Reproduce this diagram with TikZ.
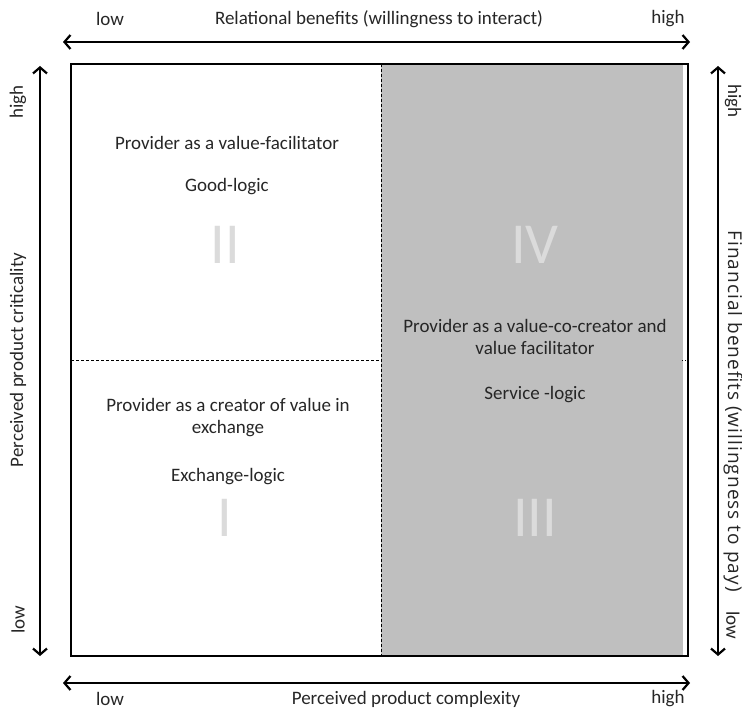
\documentclass[tikz,border=0pt]{standalone}
\usepackage{fontspec}
\setmainfont{Carlito}
\newfontfamily\rfont[LetterSpace=5.5]{Open Sans}
\usetikzlibrary{arrows.meta}
\begin{document}
\begin{tikzpicture}[x=1pt,y=-1pt,
  lbl/.style={font=\fontsize{19}{22}\selectfont, text=black!85, align=center, inner sep=0pt},
  rlbl/.style={font=\rfont\fontsize{19}{22}\selectfont, text=black!85, inner sep=0pt, rotate=-90},
  roman/.style={font=\fontsize{58}{58}\selectfont, text=black!14, inner sep=0pt},
  axis/.style={line width=2.6pt, {Straight Barb[length=6pt,width=14pt,line width=2.2pt]}-{Straight Barb[length=6pt,width=14pt,line width=2.2pt]}},
  sep/.style={line width=0.7pt, dash pattern=on 3pt off 2pt}]
\useasboundingbox (0,0) rectangle (742,711);
% shaded region
\fill[black!25] (381,64) rectangle (683,656);
% separators
\coordinate (vt) at (381,64);
\coordinate (vb) at (381,656);
\coordinate (hl) at (71,360);
\coordinate (hm) at (381,360);
\draw[sep] (vt) -- (vb);
\draw[sep] (hl) -- (hm);
\draw[line width=0.7pt, dash pattern=on 1pt off 2pt] (682,360) -- (688,360);
% frame
\draw[line width=2.6pt] (71,64) rectangle (688,656);
% axes
\coordinate (ta) at (63,42); \coordinate (tb) at (690,42);
\coordinate (ba) at (63,683); \coordinate (bb) at (690,683);
\coordinate (la) at (40,66); \coordinate (lb) at (40,656);
\coordinate (ra) at (718,66); \coordinate (rb) at (718,656);
\draw[axis] (ta) -- (tb);
\draw[axis] (ba) -- (bb);
\draw[axis] (la) -- (lb);
\draw[axis] (ra) -- (rb);
% axis labels
\node[lbl] (tlow) at (110,19) {low};
\node[lbl] (ttitle) at (379,19) {Relational benefits (willingness to interact)};
\node[lbl] (thigh) at (668,19) {high};
\node[lbl] (blow) at (110,699) {low};
\node[lbl] (btitle) at (406,699) {Perceived product complexity};
\node[lbl] (bhigh) at (668,699) {high};
\node[lbl, rotate=90] (lhigh) at (18,102) {high};
\node[lbl, rotate=90] (ltitle) at (18,360) {Perceived product criticality};
\node[lbl, rotate=90] (llow) at (18,620) {low};
\node[lbl, rotate=-90] (rhigh) at (733,101) {high};
\node[rlbl] (rtitle) at (733,411) {Financial benefits (willingness to pay)};
\node[lbl, rotate=-90] (rlow) at (733,625) {low};
% quadrant texts
\node[lbl] (q2a) at (227,143) {Provider as a value-facilitator};
\node[lbl] (q2b) at (227,187) {Good-logic};
\node[roman] (q2) at (225,245) {II};
\node[roman] (q4) at (535,245) {IV};
\node[lbl] (q4a) at (535,337) {Provider as a value-co-creator and\\value facilitator};
\node[lbl] (q4b) at (535,395) {Service -logic};
\node[lbl] (q1a) at (228,418) {Provider as a creator of value in\\exchange};
\node[lbl] (q1b) at (228,477) {Exchange-logic};
\node[roman] (q1) at (225,518) {I};
\node[roman] (q3) at (535,518) {III};
\end{tikzpicture}
\end{document}
